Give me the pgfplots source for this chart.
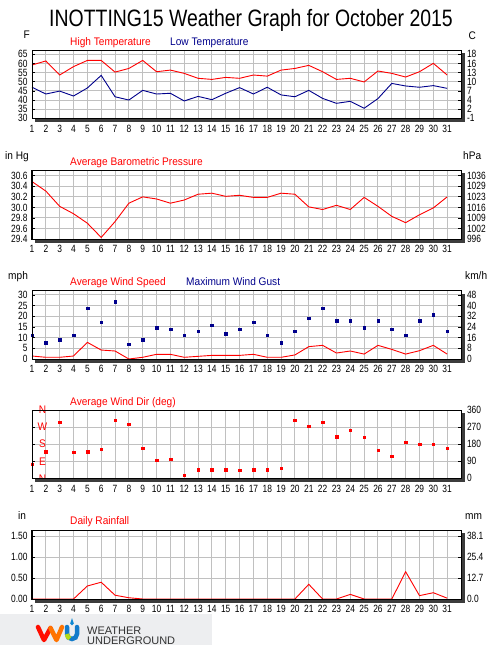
\documentclass[border=0pt]{standalone}
\usepackage{fontspec}
\setmainfont{Liberation Sans}[FakeStretch=0.92]
\newfontfamily\tickfont{Liberation Sans}[FakeStretch=0.8]
\newfontfamily\titlefont{Liberation Sans}[FakeStretch=0.82]
\newfontfamily\logofont{Liberation Sans}
\usepackage{pgfplots}
\usepackage{pgfplotstable}
\pgfplotsset{compat=1.18}
\definecolor{gridgray}{RGB}{192,192,192}
\definecolor{navyb}{RGB}{0,0,140}
\definecolor{shadowgray}{RGB}{60,60,60}
\definecolor{logobg}{RGB}{237,238,240}
\definecolor{logotext}{RGB}{50,50,50}

\pgfplotstableread{
day high low press wavg gust wdir rain
1  59.2 47.0 30.49 1.4 11.1 74  0
2  61.4 43.3 30.31 0.8 7.8  141 0
3  53.7 44.9 30.02 0.8 9.2  295 0
4  58.3 42.2 29.88 1.4 11.1 137 0
5  61.7 46.6 29.70 7.8 23.75 142 0.31
6  61.7 53.5 29.43 4.2 17.2 153 0.40
7  55.3 41.8 29.73 3.75 27.0 306 0.09
8  57.3 40.0 30.08 0.0 6.9  285 0.03
9  61.7 45.3 30.20 0.8 9.2  158 0
10 55.5 43.3 30.16 2.2 14.8 95  0
11 56.4 43.7 30.08 2.2 13.9 100 0
12 54.6 39.5 30.14 0.8 11.1 16  0
13 51.9 42.0 30.25 1.25 13.0 47 0
14 51.3 40.2 30.27 1.7 15.8 47  0
15 52.4 43.7 30.21 1.7 12.0 47  0
16 51.9 46.8 30.23 1.7 13.9 42  0
17 53.7 43.3 30.19 2.2 17.2 47  0
18 53.1 47.0 30.19 0.8 11.1 47  0
19 56.4 42.8 30.27 0.8 7.8  53  0
20 57.3 41.8 30.25 1.9 13.0 306 0
21 59.0 45.3 30.01 5.8 19.1 274 0.35
22 55.5 40.9 29.96 6.4 23.75 295 0
23 51.3 38.2 30.04 2.8 18.1 221 0
24 51.9 39.3 29.96 3.75 18.1 253 0.11
25 49.9 35.5 30.19 2.3 14.8 216 0
26 55.9 40.8 30.02 6.4 18.1 148 0
27 54.6 49.1 29.83 4.5 13.9 116 0
28 52.6 47.7 29.71 2.3 11.1 190 0.65
29 55.5 47.0 29.86 3.9 18.1 179 0.08
30 60.1 47.9 29.99 6.4 20.9 179 0.15
31 53.7 46.4 30.20 2.3 13.0 158 0.02
}\wxdata

\pgfplotsset{
  wg/.style={
    scale only axis, width=429pt, xmin=1, xmax=32, xtick={1,...,31},
    grid=major, major grid style={draw=gridgray, line width=1pt},
    axis line style={line width=1pt},
    major tick length=3pt, tick align=inside,
    ytick style={black, line width=0.8pt}, xtick style={draw=none},
    ticklabel style={font=\tickfont\fontsize{10.5}{11}\selectfont},
    xticklabel style={yshift=-3pt},
    yticklabel style={xshift=-1pt},
    /pgf/number format/assume math mode=true,
    xtick pos=bottom, ytick pos=left,
    clip=false, anchor=south west,
  },
  wgr/.style={
    scale only axis, width=429pt, xmin=1, xmax=32, xtick=\empty,
    axis line style={draw=none},
    major tick length=3pt, tick align=inside,
    ytick style={black, line width=0.8pt},
    ytick pos=right, yticklabel pos=right,
    ticklabel style={font=\tickfont\fontsize{10.5}{11}\selectfont},
    yticklabel style={xshift=2.5pt},
    /pgf/number format/assume math mode=true,
    anchor=south west,
  },
  redline/.style={red, line width=0.9pt, mark=none},
  sqmark/.style={only marks, mark=square*, mark size=1.3pt, mark options={line width=0.3pt}},
}

\newcommand{\framepanel}[1]{%
  \fill[shadowgray] ([xshift=0.5pt,yshift=-3pt]#1.north east) rectangle ([xshift=3.5pt,yshift=-3.5pt]#1.south east);
  \fill[shadowgray] ([xshift=3pt,yshift=-0.5pt]#1.south west) rectangle ([xshift=3.5pt,yshift=-3.5pt]#1.south east);
  \draw[line width=1pt] (#1.south west) rectangle (#1.north east);
}

\begin{document}
\begin{tikzpicture}
\path[use as bounding box] (0pt,0pt) rectangle (500pt,-645pt);
\fill[white] (0pt,0pt) rectangle (500pt,-645pt);

% Title
\node[anchor=base] at (251pt,-26.7pt) {\titlefont\fontsize{23.7}{26}\selectfont INOTTING15 Weather Graph for October 2015};

% ---------- Panel 1: temperature
\begin{axis}[wg, name=p1, at={(32pt,-118.3pt)}, height=68.3pt,
  ymin=30, ymax=67.4, ytick={30,35,...,65}]
  \addplot[redline] table[x=day,y=high] {\wxdata};
  \addplot[navyb, line width=0.9pt, mark=none] table[x=day,y=low] {\wxdata};
\end{axis}
\begin{axis}[wgr, at={(32pt,-118.3pt)}, height=68.3pt,
  ymin=30, ymax=67.4, ytick={30,35,...,65}, yticklabels={-1,2,4,7,10,13,16,18}]
\end{axis}
\framepanel{p1}
\node[anchor=base west] at (20pt,-38pt) {\fontsize{11}{12}\selectfont F};
\node[anchor=base west] at (465pt,-39pt) {\fontsize{11}{12}\selectfont C};
\node[anchor=base west, red, inner sep=0pt] at (70pt,-45.7pt) {\fontsize{11}{12}\selectfont High Temperature};
\node[anchor=base west, navyb, inner sep=0pt] at (170pt,-45.7pt) {\fontsize{11}{12}\selectfont Low Temperature};

% ---------- Panel 2: pressure
\begin{axis}[wg, name=p2, at={(32pt,-239pt)}, height=69pt,
  ymin=29.4, ymax=30.71, ytick={29.4,29.6,29.8,30.0,30.2,30.4,30.6},
  yticklabels={29.4,29.6,29.8,30.0,30.2,30.4,30.6}]
  \addplot[redline] table[x=day,y=press] {\wxdata};
\end{axis}
\begin{axis}[wgr, at={(32pt,-239pt)}, height=69pt,
  ymin=29.4, ymax=30.71, ytick={29.4,29.6,29.8,30.0,30.2,30.4,30.6},
  yticklabels={996,1002,1009,1016,1023,1029,1036}]
\end{axis}
\framepanel{p2}
\node[anchor=base west, inner sep=0pt] at (5pt,-159.5pt) {\fontsize{11}{12}\selectfont in Hg};
\node[anchor=base west, inner sep=0pt] at (463pt,-159.5pt) {\fontsize{11}{12}\selectfont hPa};
\node[anchor=base west, red, inner sep=0pt] at (70pt,-165.5pt) {\fontsize{11}{12}\selectfont Average Barometric Pressure};

% ---------- Panel 3: wind
\begin{axis}[wg, name=p3, at={(32pt,-359pt)}, height=68.3pt,
  ymin=0, ymax=32, ytick={0,5,...,30}]
  \addplot[redline] table[x=day,y=wavg] {\wxdata};
  \addplot[sqmark, navyb] table[x=day,y=gust] {\wxdata};
\end{axis}
\begin{axis}[wgr, at={(32pt,-359pt)}, height=68.3pt,
  ymin=0, ymax=32, ytick={0,5,...,30}, yticklabels={0,8,16,24,32,40,48}]
\end{axis}
\framepanel{p3}
\node[anchor=base west, inner sep=0pt] at (8pt,-279.5pt) {\fontsize{11}{12}\selectfont mph};
\node[anchor=base west, inner sep=0pt] at (465pt,-279.5pt) {\fontsize{11}{12}\selectfont km/h};
\node[anchor=base west, red, inner sep=0pt] at (70pt,-285.5pt) {\fontsize{11}{12}\selectfont Average Wind Speed};
\node[anchor=base west, navyb, inner sep=0pt] at (186pt,-285.5pt) {\fontsize{11}{12}\selectfont Maximum Wind Gust};

% ---------- Panel 4: wind direction
\begin{axis}[wg, name=p4, at={(32pt,-478.3pt)}, height=68.3pt,
  ymin=0, ymax=360, ytick={0,90,180,270,360}, yticklabels={N,E,S,W,N},
  yticklabel style={red, anchor=center, xshift=11.5pt, font=\fontsize{11}{12}\selectfont}]
  \addplot[sqmark, red] table[x=day,y=wdir] {\wxdata};
\end{axis}
\begin{axis}[wgr, at={(32pt,-478.3pt)}, height=68.3pt,
  ymin=0, ymax=360, ytick={0,90,180,270,360}]
\end{axis}
\framepanel{p4}
\node[anchor=base west, red, inner sep=0pt] at (70pt,-405.5pt) {\fontsize{11}{12}\selectfont Average Wind Dir (deg)};

% ---------- Panel 5: rainfall
\begin{axis}[wg, name=p5, at={(32pt,-599pt)}, height=69pt,
  ymin=0, ymax=1.643, ytick={0,0.5,1,1.5}, yticklabels={0.00,0.50,1.00,1.50}]
  \addplot[redline] table[x=day,y=rain] {\wxdata};
\end{axis}
\begin{axis}[wgr, at={(32pt,-599pt)}, height=69pt,
  ymin=0, ymax=1.643, ytick={0,0.5,1,1.5}, yticklabels={0.0,12.7,25.4,38.1}]
\end{axis}
\framepanel{p5}
\node[anchor=base west, inner sep=0pt] at (18pt,-519pt) {\fontsize{11}{12}\selectfont in};
\node[anchor=base west, inner sep=0pt] at (465pt,-519pt) {\fontsize{11}{12}\selectfont mm};
\node[anchor=base west, red, inner sep=0pt] at (70pt,-524.5pt) {\fontsize{11}{12}\selectfont Daily Rainfall};

% ---------- Logo
\fill[logobg] (0pt,-614pt) rectangle (212pt,-645pt);
\draw[line width=4.5pt, line cap=round, line join=round, red!90!orange] (38pt,-627pt) -- (44pt,-640pt) -- (50.5pt,-628pt);
\draw[line width=4.5pt, line cap=round, line join=round, orange!90!red] (50.5pt,-628pt) -- (56.5pt,-640pt) -- (62pt,-627pt);
\draw[line width=4.5pt, line cap=round, cyan!60!blue] (67pt,-627pt) -- (67pt,-634pt) arc[start angle=180, end angle=360, radius=5pt] -- (77pt,-627pt);
\draw[line width=4.5pt, yellow!70!green] (67pt,-634pt) arc[start angle=180, end angle=245, radius=5pt];
\fill[cyan!70!blue] (72pt,-623.5pt) circle (1.8pt);
\fill[cyan!70!blue] (70.4pt,-623pt) -- (72pt,-618pt) -- (73.6pt,-623pt) -- cycle;
\node[anchor=base west, inner sep=0pt, logotext] at (87pt,-634pt) {\logofont\fontsize{11}{12}\selectfont WEATHER};
\node[anchor=base west, inner sep=0pt, logotext] at (87pt,-644pt) {\logofont\fontsize{11}{12}\selectfont UNDERGROUND};
\end{tikzpicture}
\end{document}
